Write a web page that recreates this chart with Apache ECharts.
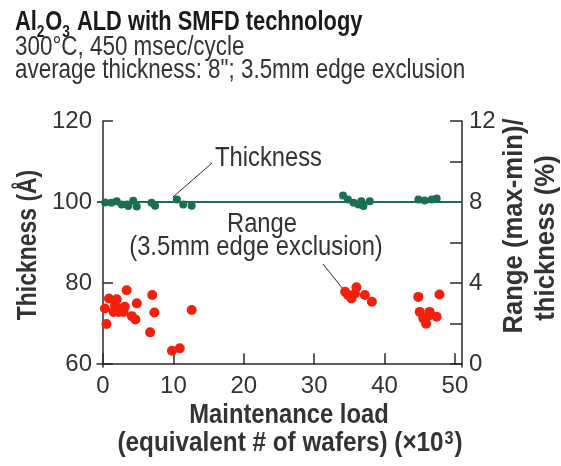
<!DOCTYPE html>
<html>
<head>
<meta charset="utf-8">
<script src="https://cdn.jsdelivr.net/npm/echarts@6/dist/echarts.min.js"></script>
<style>
  html, body { margin: 0; padding: 0; background: #fff; }
  #chart_container { width: 561px; height: 466px; }
</style>
</head>
<body>
<div id="chart_container"></div>
<script>
// no narrow font installed, so texts are squeezed with scaleX
var fontName = '"Liberation Sans", Arial, sans-serif'

// Thickness (Å), left axis
var thickX = [0.3, 1.2, 1.95, 2.65, 3.4, 3.6, 4.3, 4.8, 6.9, 7.4, 10.5, 11.4, 12.6,
              34.1, 34.8, 35.6, 36.3, 36.7, 37.0, 37.9, 44.8, 45.7, 46.7, 47.4]
var thickY = [99.9, 99.8, 100.2, 99.4, 99.4, 99.0, 100.3, 98.9, 99.8, 99.1, 100.6, 99.4, 99.1,
              101.6, 100.6, 99.8, 99.4, 100.2, 99.0, 100.2, 100.6, 100.4, 100.6, 100.9]

// Range (max-min)/thickness (%), right axis
var rangeX = [0.28, 0.5, 0.85, 1.5, 1.7, 1.95, 2.2, 2.4, 2.9, 3.1, 3.37, 4.1, 4.6, 4.8, 6.7, 7.0, 7.3, 9.8, 10.9, 12.6,
              34.4, 34.8, 35.3, 35.8, 36.0, 37.2, 38.2,
              44.8, 45.0, 45.5, 45.9, 46.4, 46.4, 47.4, 47.8]
var rangeY = [2.75, 1.98, 3.24, 2.58, 2.91, 3.20, 2.58, 2.75, 2.58, 2.83, 3.65, 2.37, 2.21, 3.0, 1.57, 3.41, 2.55, 0.66, 0.78, 2.67,
              3.57, 3.41, 3.24, 3.49, 3.79, 3.41, 3.08,
              3.32, 2.58, 2.26, 2.0, 2.58, 2.42, 2.34, 3.44]

var xTicks      = [0, 10, 20, 30, 40, 50]
var leftTicks   = [60, 80, 100, 120]
var rightTicks  = [0, 2, 4, 6, 8, 10, 12]
var rightLabels = [0, 4, 8, 12]

var thickLevel = 100

function pairs (xs, ys) {
    let arr = []
    for (let i = 0; i < xs.length; i++) arr.push([xs[i], ys[i]])
    return arr
}

var axisColor = '#2a2a2a'
var textColor = '#333'
var green = '#1b6e52'
var red = '#f2200c'

function narrowText (x, y, text, size, weight, align, squeeze, rotation) {
    return {
        type: 'text', x: x, y: y, scaleX: squeeze || 0.83, rotation: rotation || 0,
        style: {
            text: text, fill: textColor, align: align || 'left',
            verticalAlign: rotation ? 'middle' : 'top',
            font: (weight || 'normal') + ' ' + size + 'px ' + fontName
        }
    }
}

var chart = echarts.init(document.getElementById('chart_container'), null, { renderer: 'canvas' })
var option = {
    animation: false,
    backgroundColor: '#fff',
    grid: { left: 97, right: 99, top: 121, bottom: 99 },
    xAxis: {
        type: 'value', min: -0.85, max: 51,
        splitLine: { show: false },
        axisLine: { lineStyle: { color: axisColor, width: 1.5 } },
        axisTick: { customValues: xTicks, inside: true, length: 11, lineStyle: { color: axisColor, width: 1.5 } },
        axisLabel: { customValues: xTicks, color: textColor, fontSize: 24, fontFamily: fontName, margin: 7 }
    },
    yAxis: [
        {
            type: 'value', position: 'left', min: 59.3, max: 120,
            splitLine: { show: false },
            axisLine: { show: true, lineStyle: { color: axisColor, width: 1.5 } },
            axisTick: { show: true, customValues: leftTicks, inside: true, length: 10, lineStyle: { color: axisColor, width: 1.5 } },
            axisLabel: { customValues: leftTicks, color: textColor, fontSize: 24, fontFamily: fontName, margin: 5 }
        },
        {
            type: 'value', position: 'right', min: -0.14, max: 12,
            splitLine: { show: false },
            axisLine: { show: true, lineStyle: { color: axisColor, width: 1.5 } },
            axisTick: { show: true, customValues: rightTicks, inside: true, length: 12, lineStyle: { color: axisColor, width: 1.5 } },
            axisLabel: { customValues: rightLabels, color: textColor, fontSize: 24, fontFamily: fontName, margin: 7 }
        }
    ],
    series: [
        {
            name: 'Thickness', type: 'scatter', yAxisIndex: 0,
            symbolSize: 8, itemStyle: { color: green, opacity: 1 },
            data: pairs(thickX, thickY),
            markLine: {
                silent: true, symbol: 'none', label: { show: false },
                lineStyle: { color: green, width: 2, type: 'solid' },
                data: [{ yAxis: thickLevel }]
            },
            z: 3
        },
        {
            name: 'Range', type: 'scatter', yAxisIndex: 1,
            symbolSize: 10, itemStyle: { color: red, opacity: 1 },
            data: pairs(rangeX, rangeY),
            z: 2
        }
    ],
    graphic: [
        {
            type: 'text', x: 15, y: 9, scaleX: 0.81,
            style: {
                text: '{b|Al}{s|2}{b|O}{s|3}{b| ALD with SMFD technology}',
                fill: '#1a1a1a',
                rich: {
                    b: { font: 'bold 27px ' + fontName, fill: '#1a1a1a', verticalAlign: 'bottom' },
                    s: { font: 'bold 17px ' + fontName, fill: '#1a1a1a', verticalAlign: 'bottom', padding: [0, 1, -5, 0] }
                }
            }
        },
        narrowText(15, 34, '300°C, 450 msec/cycle', 27),
        narrowText(15, 57, 'average thickness: 8"; 3.5mm edge exclusion', 27),
        // annotations
        narrowText(215, 145, 'Thickness', 27, 'normal', 'left', 0.88),
        narrowText(262, 211, 'Range', 27, 'normal', 'center', 0.88),
        narrowText(256, 234, '(3.5mm edge exclusion)', 27, 'normal', 'center', 0.88),
        { type: 'line', shape: { x1: 212, y1: 163, x2: 173, y2: 197 }, style: { stroke: axisColor, lineWidth: 1 } },
        { type: 'line', shape: { x1: 323, y1: 264, x2: 343, y2: 289 }, style: { stroke: axisColor, lineWidth: 1 } },
        // axis names
        narrowText(289, 402, 'Maintenance load', 27, 'bold', 'center', 0.88),
        {
            type: 'text', x: 290, y: 430, scaleX: 0.9,
            style: {
                text: '{n|(equivalent # of wafers) (×10}{p|3}{n|)}',
                align: 'center', verticalAlign: 'top', fill: textColor,
                rich: {
                    n: { font: 'bold 27px ' + fontName, fill: textColor, verticalAlign: 'bottom' },
                    p: { font: 'bold 18px ' + fontName, fill: textColor, verticalAlign: 'bottom', padding: [0, 1, 9, 1] }
                }
            }
        },
        narrowText(29, 245, 'Thickness (Å)', 27, 'bold', 'center', 0.85, Math.PI / 2),
        narrowText(515, 226, 'Range (max-min)/', 27, 'bold', 'center', 0.95, Math.PI / 2),
        narrowText(547, 238, 'thickness (%)', 27, 'bold', 'center', 0.95, Math.PI / 2)
    ]
}
chart.setOption(option)
window.addEventListener('resize', () => {
    chart.resize()
})
</script>
</body>
</html>
